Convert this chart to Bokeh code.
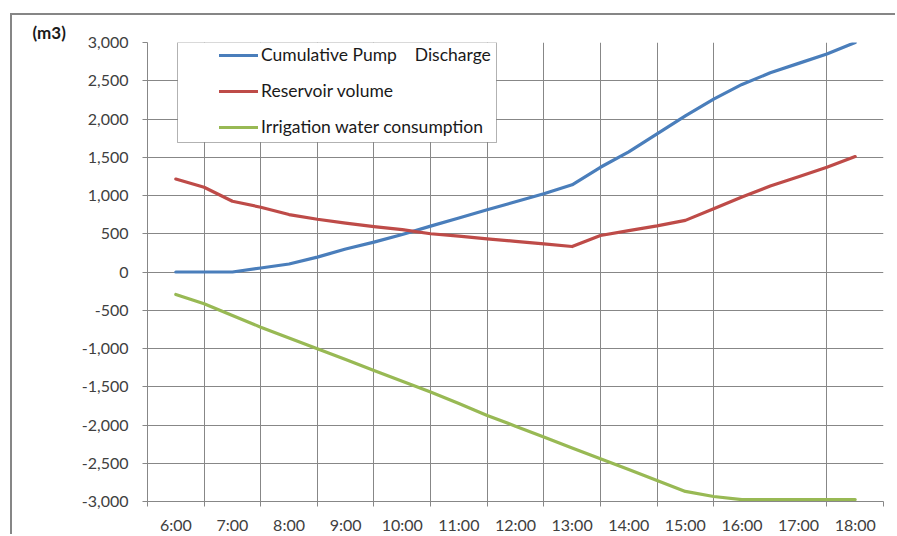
from bokeh.plotting import figure
from bokeh.models import (Range1d, FixedTicker, NumeralTickFormatter, Legend, LegendItem,
                          BoxAnnotation)
from bokeh.embed import file_html
from bokeh.resources import INLINE

# ---- data ----
hours = [6, 6.5, 7, 7.5, 8, 8.5, 9, 9.5, 10, 10.5, 11, 11.5, 12, 12.5, 13,
         13.5, 14, 14.5, 15, 15.5, 16, 16.5, 17, 17.5, 18]
pump_discharge = [0, 0, 0, 52, 105, 194, 300, 390, 490, 600, 706, 813, 918, 1022, 1140,
                  1369, 1570, 1805, 2040, 2260, 2452, 2604, 2727, 2851, 3000]
reservoir_volume = [1215, 1108, 925, 847, 751, 690, 638, 594, 555, 500, 468, 434, 400, 368, 333,
                    477, 540, 603, 675, 826, 980, 1124, 1246, 1369, 1509]
irrigation_consumption = [-294, -415, -568, -721, -862, -1003, -1145, -1287, -1428, -1570, -1720,
                          -1875, -2015, -2158, -2300, -2441, -2583, -2724, -2868, -2935, -2975,
                          -2975, -2975, -2975, -2975]

series_names = ["Cumulative Pump    Discharge", "Reservoir volume", "Irrigation water consumption"]
series_colors = ["#4A7EBB", "#BE4B48", "#98B954"]
unit_label = "(m3)"

hour_ticks = list(range(6, 19))
hour_labels = {h: f"{h}:00" for h in hour_ticks}
grid_hours = [h + 0.5 for h in range(5, 19) if h != 16]  # no line at 16:30 in the original
y_ticks = list(range(-3000, 3001, 500))

FONT = "Lato"
AXIS_TXT = "#404040"
GRID = "#878787"

p = figure(width=885, height=521, output_backend="svg", toolbar_location=None,
           x_range=Range1d(5.5, 18.5), y_range=Range1d(-3000, 3000),
           min_border_left=135, min_border_right=14, min_border_top=27, min_border_bottom=35,
           styles={"margin-left": "10px", "margin-top": "13px",
                   "border-left": "2px solid #868686", "border-top": "2px solid #868686"})
p.outline_line_color = None
p.background_fill_color = "white"
p.border_fill_color = "white"

# unit label as a left-aligned title
p.title.text = unit_label
p.title.align = "left"
p.title.offset = -115
p.title.standoff = 0
p.title.text_font = FONT
p.title.text_font_size = "17px"
p.title.text_font_style = "bold"
p.title.text_color = "#1a1a1a"

# grids
p.xgrid.ticker = FixedTicker(ticks=grid_hours)
p.ygrid.ticker = FixedTicker(ticks=y_ticks)
for g in (p.xgrid, p.ygrid):
    g.grid_line_color = GRID
    g.grid_line_width = 1

# x axis
xa = p.xaxis[0]
xa.ticker = FixedTicker(ticks=hour_ticks, minor_ticks=grid_hours)
xa.major_label_overrides = hour_labels
xa.major_tick_out = 0
xa.major_tick_in = 0
xa.minor_tick_out = 5
xa.minor_tick_in = 0
xa.minor_tick_line_color = GRID
xa.axis_line_color = GRID
xa.major_label_standoff = 8
xa.major_label_text_font = FONT
xa.major_label_text_font_size = "16px"
xa.major_label_text_color = AXIS_TXT

# y axis
ya = p.yaxis[0]
ya.ticker = FixedTicker(ticks=y_ticks)
ya.formatter = NumeralTickFormatter(format="0,0")
ya.major_tick_out = 5
ya.major_tick_in = 0
ya.minor_tick_line_color = None
ya.major_tick_line_color = GRID
ya.axis_line_color = GRID
ya.major_label_standoff = 14
ya.major_label_text_font = FONT
ya.major_label_text_font_size = "16px"
ya.major_label_text_color = AXIS_TXT

# lines
renderers = []
for vals, col in zip([pump_discharge, reservoir_volume, irrigation_consumption], series_colors):
    r = p.line(hours, vals, line_color=col, line_width=3.2, line_join="round", line_cap="round")
    renderers.append(r)

# legend box
p.add_layout(BoxAnnotation(left=163, top=25, right=482, bottom=125,
                           left_units="canvas", right_units="canvas",
                           top_units="canvas", bottom_units="canvas",
                           fill_color="white", fill_alpha=1, line_color="black", line_width=1))

legend = Legend(items=[LegendItem(label=n, renderers=[r]) for n, r in zip(series_names, renderers)],
                location=(72, 364), padding=0, margin=0, spacing=15,
                glyph_width=39, glyph_height=20, label_height=20, label_standoff=3,
                border_line_color=None, background_fill_alpha=0,
                label_text_font=FONT, label_text_font_size="17.5px", label_text_color="#1a1a1a")
p.add_layout(legend)

open("out.html", "w").write(file_html(p, INLINE))
